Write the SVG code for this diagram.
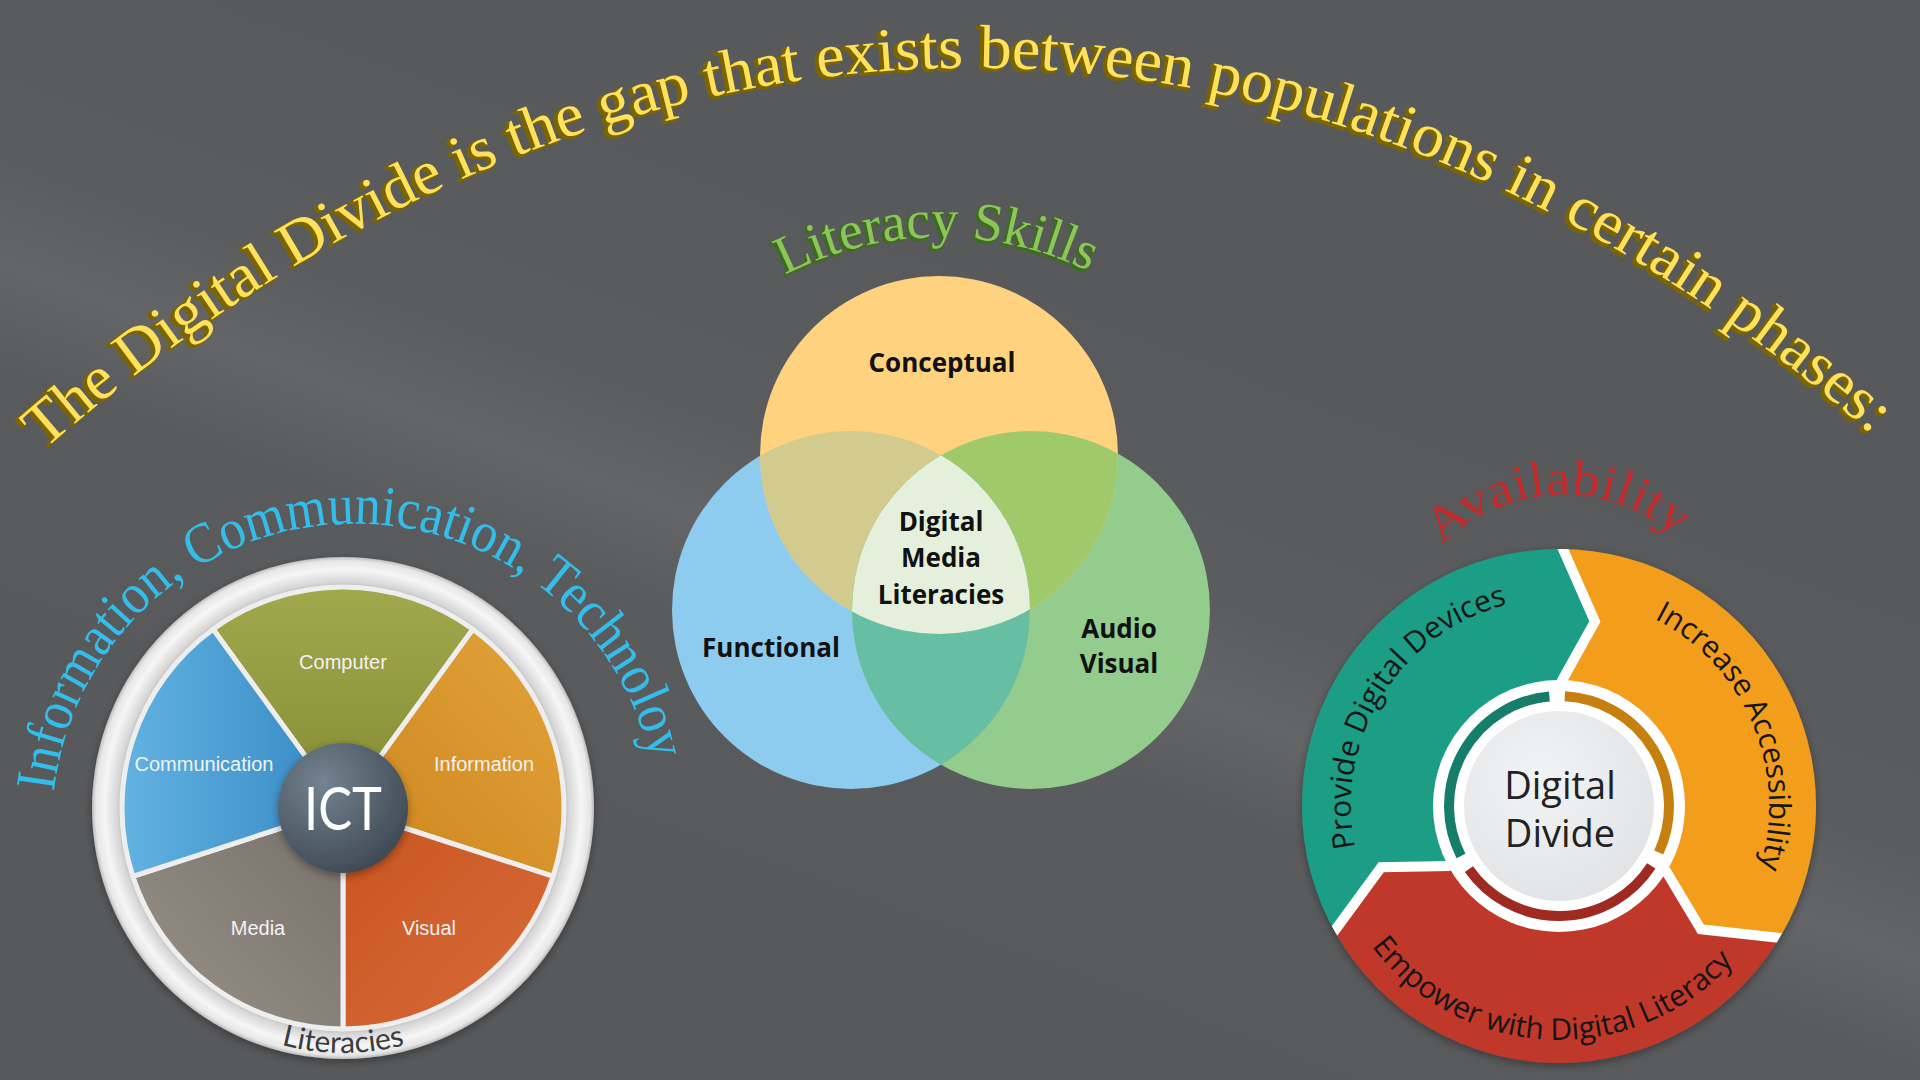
<svg xmlns="http://www.w3.org/2000/svg" width="1920" height="1080" viewBox="0 0 1920 1080">
<style>
.title{font-family:"Liberation Serif","Times New Roman",serif;font-size:62px}
.ttl-fill{fill:#FFE15A}
.ttl-sh{fill:#7B6500;stroke:#7B6500;stroke-width:2.5}
.lit{font-family:"Liberation Serif",serif;font-size:54px}
.ict-arc{font-family:"Liberation Serif",serif;font-size:57px;fill:#33BDEB}
.avail{font-family:"Liberation Serif",serif;font-size:50px;fill:#C42A2A}
.slice-lbl{font-family:"Liberation Sans",Arial,sans-serif;font-size:20px;fill:#F2F2F2;text-anchor:middle}
.venn-lbl{font-family:"Open Sans","Liberation Sans",sans-serif;font-weight:700;font-size:26px;fill:#111;text-anchor:middle}
.dd-lbl{font-family:"Open Sans","Liberation Sans",sans-serif;font-size:30px;fill:#141414}
.sep{stroke:#EEEEEE;stroke-width:5;stroke-linejoin:round}
</style>
<defs>
<linearGradient id="bg" gradientUnits="userSpaceOnUse" x1="1097" y1="254" x2="823" y2="1006">
<stop offset="0" stop-color="#58595B"/>
<stop offset="0.35" stop-color="#5B5C5E"/>
<stop offset="0.48" stop-color="#646567"/>
<stop offset="0.6" stop-color="#5A5B5D"/>
<stop offset="1" stop-color="#58595B"/>
</linearGradient>
<path id="pTitle" d="M 44 450 C 628 -59 1318 -59 1885 446"/>
<path id="pLit" d="M 785 275 A 339 339 0 0 1 1090 272"/>
<path id="pICT" d="M 54 792 A 303 303 0 0 1 656 792"/>
<path id="pAvail" d="M 1442 545 A 172 172 0 0 1 1680 540"/>
<path id="pLiteracies" d="M 98 808 A 245 245 0 0 0 588 808"/>
<path id="pProvide" d="M 1464.6 991.3 A 208 208 0 1 1 1684.2 639.9"/>
<path id="pIncrease" d="M 1460.4 620.6 A 210 210 0 1 1 1623.9 1005.7"/>
<path id="pEmpower" d="M 1327 775.5 A 234 234 0 1 0 1792.8 795.8"/>
<radialGradient id="ringG" cx="0.5" cy="0.5" r="0.5">
<stop offset="0.86" stop-color="#9C9C9C"/>
<stop offset="0.9" stop-color="#D6D6D6"/>
<stop offset="0.95" stop-color="#F6F6F6"/>
<stop offset="0.985" stop-color="#E6E6E6"/>
<stop offset="1" stop-color="#BDBDBD"/>
</radialGradient>
<linearGradient id="gComp" x1="0" y1="0" x2="0" y2="1"><stop offset="0" stop-color="#A2A84C"/><stop offset="1" stop-color="#848C34"/></linearGradient>
<linearGradient id="gInfo" x1="1" y1="0" x2="0" y2="1"><stop offset="0" stop-color="#E2A43A"/><stop offset="1" stop-color="#CD841C"/></linearGradient>
<linearGradient id="gVis" x1="0" y1="0" x2="1" y2="1"><stop offset="0" stop-color="#C85420"/><stop offset="1" stop-color="#D86C3A"/></linearGradient>
<linearGradient id="gMed" x1="1" y1="0" x2="0" y2="1"><stop offset="0" stop-color="#77716A"/><stop offset="1" stop-color="#989188"/></linearGradient>
<linearGradient id="gCom" x1="0" y1="0" x2="1" y2="0"><stop offset="0" stop-color="#62B2E2"/><stop offset="1" stop-color="#3589C2"/></linearGradient>
<radialGradient id="gICT" cx="0.35" cy="0.3" r="0.8"><stop offset="0" stop-color="#738390"/><stop offset="1" stop-color="#3B4650"/></radialGradient>
<radialGradient id="gCenter" cx="0.4" cy="0.35" r="0.7"><stop offset="0" stop-color="#F2F3F4"/><stop offset="1" stop-color="#E1E3E5"/></radialGradient>
<filter id="shadow" x="-20%" y="-20%" width="140%" height="140%"><feDropShadow dx="0" dy="3" stdDeviation="4" flood-color="#000" flood-opacity="0.35"/></filter>
<clipPath id="cL"><circle cx="851" cy="610" r="179"/></clipPath>
<clipPath id="cR"><circle cx="1031" cy="610" r="179"/></clipPath>
<clipPath id="cDonut"><circle cx="1559" cy="806" r="257"/></clipPath>
</defs>

<rect width="1920" height="1080" fill="url(#bg)"/>

<g id="title">
<text class="title ttl-sh" transform="translate(-3,2)"><textPath href="#pTitle" textLength="2020" lengthAdjust="spacingAndGlyphs">The Digital Divide is the gap that exists between populations in certain phases:</textPath></text>
<text class="title ttl-fill"><textPath href="#pTitle" textLength="2020" lengthAdjust="spacingAndGlyphs">The Digital Divide is the gap that exists between populations in certain phases:</textPath></text>
</g>

<g id="ict-wheel">
<text id="ict-heading" class="ict-arc"><textPath href="#pICT" textLength="850" lengthAdjust="spacingAndGlyphs">Information, Communication, Technoloy</textPath></text>
<circle id="ict-ring" cx="343" cy="808" r="251" fill="url(#ringG)" filter="url(#shadow)"/>
<g id="slice-computer"><path class="sep" d="M 343 808 L 213.1 629.2 A 221 221 0 0 1 472.9 629.2 Z" fill="url(#gComp)"/><text class="slice-lbl" x="343" y="669">Computer</text></g>
<g id="slice-information"><path class="sep" d="M 343 808 L 472.9 629.2 A 221 221 0 0 1 553.2 876.3 Z" fill="url(#gInfo)"/><text class="slice-lbl" x="484" y="771">Information</text></g>
<g id="slice-visual"><path class="sep" d="M 343 808 L 553.2 876.3 A 221 221 0 0 1 343 1029 Z" fill="url(#gVis)"/><text class="slice-lbl" x="429" y="935">Visual</text></g>
<g id="slice-media"><path class="sep" d="M 343 808 L 343 1029 A 221 221 0 0 1 132.8 876.3 Z" fill="url(#gMed)"/><text class="slice-lbl" x="258" y="935">Media</text></g>
<g id="slice-communication"><path class="sep" d="M 343 808 L 132.8 876.3 A 221 221 0 0 1 213.1 629.2 Z" fill="url(#gCom)"/><text class="slice-lbl" x="204" y="771">Communication</text></g>
<g id="ict-center"><circle cx="343" cy="808" r="65" fill="url(#gICT)" filter="url(#shadow)"/><text x="343" y="830" text-anchor="middle" font-family="Lato,'Liberation Sans',sans-serif" font-size="60" fill="#FFFFFF" textLength="78" lengthAdjust="spacingAndGlyphs">ICT</text></g>
<text id="ict-literacies" font-family="Lato,'Liberation Sans',sans-serif" font-size="30" fill="#3A3D40" text-anchor="middle"><textPath href="#pLiteracies" startOffset="50%">Literacies</textPath></text>
</g>

<g id="venn">
<g id="lit-heading">
<text class="lit" fill="#3F6B22" stroke="#3F6B22" stroke-width="2" transform="translate(-2,2)"><textPath href="#pLit" textLength="315" lengthAdjust="spacingAndGlyphs">Literacy Skills</textPath></text>
<text class="lit" fill="#8DC658"><textPath href="#pLit" textLength="315" lengthAdjust="spacingAndGlyphs">Literacy Skills</textPath></text>
</g>
<g id="venn-functional"><circle cx="851" cy="610" r="179" fill="#8DCBEF"/></g>
<g id="venn-audiovisual"><circle cx="1031" cy="610" r="179" fill="#93CC8D"/></g>
<g id="venn-conceptual"><circle cx="939" cy="455" r="179" fill="#FED27F"/></g>
<circle cx="939" cy="455" r="179" fill="#D3CA8E" clip-path="url(#cL)"/>
<circle cx="939" cy="455" r="179" fill="#A0C96B" clip-path="url(#cR)"/>
<circle cx="851" cy="610" r="179" fill="#66BFA3" clip-path="url(#cR)"/>
<g id="venn-digital-media" clip-path="url(#cL)"><circle cx="939" cy="455" r="179" fill="#E4F0DB" clip-path="url(#cR)"/></g>
<text class="venn-lbl" x="942" y="372">Conceptual</text>
<text class="venn-lbl" x="941" y="531">Digital</text>
<text class="venn-lbl" x="941" y="567">Media</text>
<text class="venn-lbl" x="941" y="604">Literacies</text>
<text class="venn-lbl" x="771" y="657">Functional</text>
<text class="venn-lbl" x="1119" y="638">Audio</text>
<text class="venn-lbl" x="1119" y="673">Visual</text>
</g>

<g id="availability">
<text id="avail-heading" class="avail"><textPath href="#pAvail" textLength="258" lengthAdjust="spacingAndGlyphs">Availability</textPath></text>
<g filter="url(#shadow)">
<g id="seg-provide"><path d="M 1336.4 934.5 A 257 257 0 0 1 1559 549 L 1594.9 621.5 L 1561.2 682 A 124 124 0 0 0 1450.5 866.1 L 1381.2 867.2 Z" fill="#1A9E86"/></g>
<g id="seg-increase"><path d="M 1559 549 A 257 257 0 0 1 1781.6 934.5 L 1700.9 929.3 L 1665.3 869.9 A 124 124 0 0 0 1561.2 682 L 1594.9 621.5 Z" fill="#F29E1B"/></g>
<g id="seg-empower"><path d="M 1781.6 934.5 A 257 257 0 0 1 1336.4 934.5 L 1381.2 867.2 L 1450.5 866.1 A 124 124 0 0 0 1665.3 869.9 L 1700.9 929.3 Z" fill="#C0392B"/></g>
</g>
<g clip-path="url(#cDonut)" fill="none" stroke="#FFFFFF" stroke-width="10" stroke-linejoin="miter">
<polyline points="1559,540 1594.9,621.5 1561.2,682"/>
<polyline points="1789.4,939 1700.9,929.3 1665.3,869.9"/>
<polyline points="1328.6,939 1381.2,867.2 1450.5,866.1"/>
</g>
<circle cx="1559" cy="806" r="126" fill="#FFFFFF"/>
<g fill="none" stroke-width="10">
<path d="M 1461 855.9 A 110 110 0 0 1 1549.4 696.4" stroke="#177D6B"/>
<path d="M 1564.8 696.2 A 110 110 0 0 1 1658.7 852.5" stroke="#C6800F"/>
<path d="M 1651.3 865.9 A 110 110 0 0 1 1468.9 869.1" stroke="#9E2A22"/>
</g>
<g id="dd-center"><circle cx="1559" cy="806" r="95" fill="url(#gCenter)"/>
<text x="1560" y="799" text-anchor="middle" font-family="'Open Sans','Liberation Sans',sans-serif" font-size="38" fill="#222">Digital</text>
<text x="1560" y="847" text-anchor="middle" font-family="'Open Sans','Liberation Sans',sans-serif" font-size="38" fill="#222">Divide</text></g>
<text class="dd-lbl" text-anchor="middle"><textPath href="#pProvide" startOffset="50%">Provide Digital Devices</textPath></text>
<text class="dd-lbl" text-anchor="middle"><textPath href="#pIncrease" startOffset="50%">Increase Accessibility</textPath></text>
<text class="dd-lbl" text-anchor="middle"><textPath href="#pEmpower" startOffset="50%">Empower with Digital Literacy</textPath></text>
</g>

<g id="connectors"/>
</svg>
